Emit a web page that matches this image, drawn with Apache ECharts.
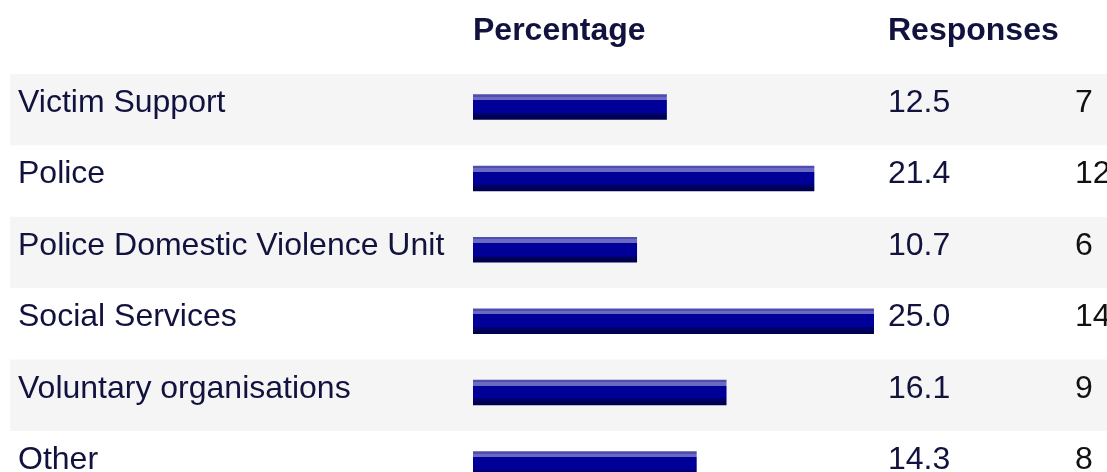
<!DOCTYPE html>
<html>
<head>
<meta charset="utf-8">
<script src="https://cdn.jsdelivr.net/npm/echarts@6/dist/echarts.min.js"></script>
<style>
  html, body { margin: 0; padding: 0; background: #fff; }
  #chart { width: 1107px; height: 472px; }
</style>
</head>
<body>
<div id="chart"></div>
<script>
// 数据
const categories = ['Victim Support', 'Police', 'Police Domestic Violence Unit', 'Social Services', 'Voluntary organisations', 'Other']
const percentages = [12.5, 21.4, 10.7, 25.0, 16.1, 14.3]
const responses = [7, 12, 6, 14, 9, 8]
const headers = ['Percentage', 'Responses']

const ROW_H = 71.4
const ROWS_H = ROW_H * categories.length // 最后一行被画布裁掉
const FONT = 'Arial, "Liberation Sans", sans-serif'
const FONT_SIZE = 32
const NAVY = '#12123f'

// 文字列：每列一个 grid + 一个 category yAxis
const textCols = [
  { left: 18, data: categories, color: NAVY },
  { left: 888, data: percentages.map(v => v.toFixed(1)), color: NAVY },
  { left: 1075, data: responses.map(String), color: '#111111' }
]

// outerBoundsMode: 'none' 避免 v6 把 grid 压回画布内
const grids = [
  { left: 10, right: 0, top: 74, height: ROWS_H, outerBoundsMode: 'none' }, // 背景条纹
  { left: 473, width: 401, top: 71.3, height: ROWS_H, outerBoundsMode: 'none' } // 柱子
]
textCols.forEach(c => grids.push({ left: c.left, width: 10, top: 67.5, height: ROWS_H, outerBoundsMode: 'none' }))

const xAxes = grids.map((g, i) => ({
  gridIndex: i,
  type: 'value',
  show: false,
  min: i === 1 ? 0.8 : 0,
  max: i === 1 ? 25 : 1
}))

const hidden = { axisLine: { show: false }, axisTick: { show: false } }
const yAxes = [
  {
    gridIndex: 0, type: 'category', inverse: true, data: categories, ...hidden,
    axisLabel: { show: false },
    splitArea: { show: true, areaStyle: { color: ['#f5f5f5', '#ffffff'], opacity: 1 } }
  },
  { gridIndex: 1, type: 'category', inverse: true, data: categories, show: false }
]
textCols.forEach((c, i) => yAxes.push({
  gridIndex: i + 2, type: 'category', inverse: true, data: c.data, ...hidden,
  axisLabel: { inside: true, margin: 0, align: 'left', fontSize: FONT_SIZE, fontFamily: FONT, color: c.color }
}))

// 柱子的横向条纹渐变
const barColor = new echarts.graphic.LinearGradient(0, 0, 0, 1, [
  { offset: 0, color: '#4e4eae' }, { offset: 0.09, color: '#4e4eae' },
  { offset: 0.09, color: '#6a6ac2' }, { offset: 0.23, color: '#6a6ac2' },
  { offset: 0.23, color: '#000099' }, { offset: 0.73, color: '#000099' },
  { offset: 0.73, color: '#000070' }, { offset: 0.83, color: '#000070' },
  { offset: 0.83, color: '#000052' }, { offset: 1, color: '#000052' }
])

const headerX = [473, 888]

const option = {
  animation: false,
  grid: grids,
  xAxis: xAxes,
  yAxis: yAxes,
  graphic: headers.map((h, i) => ({
    type: 'text',
    x: headerX[i],
    y: 31,
    style: {
      text: h,
      font: 'bold ' + FONT_SIZE + 'px ' + FONT,
      fill: NAVY,
      align: 'left', verticalAlign: 'middle',
      textAlign: 'left', textVerticalAlign: 'middle'
    }
  })),
  series: [{
    type: 'bar',
    xAxisIndex: 1,
    yAxisIndex: 1,
    data: percentages,
    barWidth: 25.5,
    itemStyle: { color: barColor },
    silent: true
  }]
}

const chart = echarts.init(document.getElementById('chart'))
chart.setOption(option)
</script>
</body>
</html>
